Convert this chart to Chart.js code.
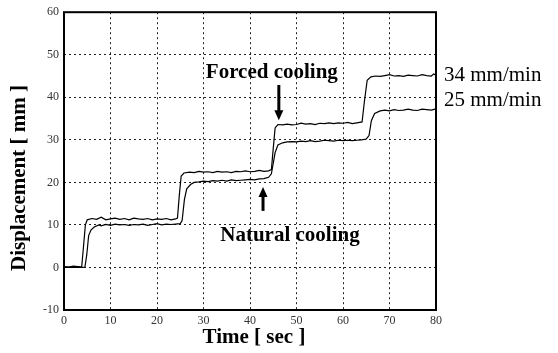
<!DOCTYPE html>
<html>
<head>
<meta charset="utf-8">
<script src="https://cdn.jsdelivr.net/npm/chart.js@4/dist/chart.umd.min.js"></script>
<style>
  html, body { margin: 0; padding: 0; background: #fff; }
  #wrap { width: 558px; height: 353px; }
</style>
</head>
<body>
<div id="wrap"><canvas id="chart" width="558" height="353"></canvas></div>
<script>
'use strict';

// ── Data ──────────────────────────────────────────────────────
const timeForced = [
  0, 1, 2, 3, 3.8, 4.2, 4.6, 5.0, 6, 7, 8, 9, 10, 11, 12, 13, 14, 15, 16, 17, 18, 19, 20,
  21, 22, 23, 24, 24.4, 24.8, 25.2, 25.8, 27, 28, 29, 30, 31, 32, 33, 34, 35, 36, 37, 38,
  39, 40, 41, 42, 43, 44, 44.6, 45.0, 45.4, 46, 47, 48, 49, 50, 51, 52, 53, 54, 55, 56,
  57, 58, 59, 60, 61, 62, 63, 64.1, 64.6, 65.2, 66, 67, 68, 69, 70, 71, 72, 73, 74, 75,
  76, 77, 78, 79, 79.5, 80
];
const dispForced = [
  0.2, 0.1, 0.3, 0.2, 0.1, 5, 10, 11.2, 11.5, 11.3, 11.8, 11.2, 11.4, 11.6, 11.3, 11.5, 11.2, 11.6, 11.4, 11.3, 11.5, 11.2, 11.4,
  11.3, 11.5, 11.2, 11.4, 11.6, 17, 21.5, 22.2, 22.4, 22.3, 22.6, 22.4, 22.5, 22.3, 22.6, 22.4, 22.5, 22.3, 22.6, 22.5,
  22.7, 22.5, 22.6, 22.8, 22.6, 22.7, 23, 28, 32.8, 33.6, 33.5, 33.7, 33.5, 33.6, 33.9, 33.7, 33.8, 33.6, 33.9, 33.8,
  34.0, 33.8, 34.0, 33.9, 34.1, 33.8, 34.0, 34.2, 39, 44, 44.8, 45.0, 44.9, 45.1, 45.3, 45.0, 45.1, 44.9, 45.2, 45.1,
  45.0, 45.3, 45.1, 45.0, 45.5, 45.2
];

const timeNatural = [
  0, 1, 2, 3, 4, 4.5, 4.9, 5.3, 5.8, 6.5, 7.5, 8, 9, 10, 11, 12, 13, 14, 15, 16, 17, 18,
  19, 20, 21, 22, 23, 24, 25, 25.4, 25.9, 26.4, 27.2, 28, 29, 30, 31, 32, 33, 34, 35, 36,
  37, 38, 39, 40, 41, 42, 43, 44, 44.6, 45.4, 46, 47, 48, 49, 50, 51, 52, 53, 54, 55, 56,
  57, 58, 59, 60, 61, 62, 63, 64, 65, 65.6, 66.1, 66.8, 68, 69, 70, 71, 72, 73, 74, 75,
  76, 77, 78, 79, 80
];
const dispNatural = [
  0, 0.1, 0, 0.1, 0, 0.1, 3, 7.5, 8.8, 9.5, 10, 9.8, 10.1, 9.9, 10.2, 10, 10.1, 9.9, 10.1, 10, 10.2, 9.9,
  10.1, 10.3, 10, 10.2, 10.1, 10.2, 10.3, 11, 16, 18.5, 19.5, 20, 20.1, 20.3, 20.2, 20.4, 20.3, 20.5, 20.3, 20.6,
  20.4, 20.5, 20.6, 20.7, 20.6, 20.8, 20.9, 21.2, 22, 27, 28.8, 29.3, 29.5, 29.6, 29.5, 29.7, 29.6, 29.8, 29.6, 29.7, 29.9,
  29.8, 29.7, 29.9, 29.8, 29.9, 29.8, 29.9, 30, 30.2, 31, 34.5, 36.2, 36.8, 37, 36.8, 37.1, 36.9, 37, 37.2, 37,
  36.9, 37.2, 37.1, 37, 37.3
];

const xTickLabels = ['0', '10', '20', '30', '40', '50', '60', '70', '80'];
const yTickLabels = ['-10', '0', '10', '20', '30', '40', '50', '60'];

const seriesLabels = ['34 mm/min', '25 mm/min'];

// ── Helpers ───────────────────────────────────────────────────
function toPoints(xs, ys) {
  return xs.map((x, i) => ({ x, y: ys[i] }));
}

const SERIF = '"Liberation Serif", "DejaVu Serif", serif';

// frame, annotations, axis titles
const decorPlugin = {
  id: 'decor',
  afterDraw(chart) {
    const { ctx, chartArea: a, scales } = chart;
    const px = v => scales.x.getPixelForValue(v);
    const py = v => scales.y.getPixelForValue(v);

    ctx.save();
    ctx.strokeStyle = '#000';
    ctx.lineWidth = 2;
    ctx.strokeRect(a.left, a.top, a.right - a.left, a.bottom - a.top);

    ctx.fillStyle = '#000';
    ctx.textBaseline = 'middle';

    // annotations
    ctx.font = 'bold 21px ' + SERIF;
    ctx.textAlign = 'center';
    ctx.fillText('Forced cooling', px(44.7), py(45.8));
    ctx.fillText('Natural cooling', px(48.6), py(7.6));

    drawArrow(ctx, px(46.2), py(42.9), px(46.2), py(34.6));
    drawArrow(ctx, px(42.8), py(13.3), px(42.8), py(18.9));

    // series labels, right of the frame
    ctx.font = '21px ' + SERIF;
    ctx.textAlign = 'left';
    ctx.fillText(seriesLabels[0], a.right + 8, py(45.1));
    ctx.fillText(seriesLabels[1], a.right + 8, py(39.2));

    // axis titles
    ctx.font = 'bold 21px ' + SERIF;
    ctx.textAlign = 'center';
    ctx.fillText('Time [ sec ]', 254, 338);
    ctx.translate(20, 178);
    ctx.rotate(-Math.PI / 2);
    ctx.fillText('Displacement [ mm ]', 0, 0);
    ctx.restore();
  }
};

function drawArrow(ctx, x1, y1, x2, y2) {
  const dir = y2 > y1 ? 1 : -1;
  ctx.save();
  ctx.strokeStyle = '#000';
  ctx.lineWidth = 3;
  ctx.beginPath();
  ctx.moveTo(x1, y1);
  ctx.lineTo(x2, y2 - dir * 6);
  ctx.stroke();
  ctx.beginPath();
  ctx.moveTo(x2, y2);
  ctx.lineTo(x2 - 4.5, y2 - dir * 10);
  ctx.lineTo(x2 + 4.5, y2 - dir * 10);
  ctx.closePath();
  ctx.fill();
  ctx.restore();
}

// ── Chart ─────────────────────────────────────────────────────
const lineStyle = {
  borderColor: '#000',
  borderWidth: 1.2,
  pointRadius: 0,
  tension: 0,
  fill: false,
};

const gridStyle = {
  color: '#222',
  lineWidth: 1,
  drawTicks: false,
};

new Chart(document.getElementById('chart').getContext('2d'), {
  type: 'line',
  data: {
    datasets: [
      { label: seriesLabels[0], data: toPoints(timeForced, dispForced), ...lineStyle },
      { label: seriesLabels[1], data: toPoints(timeNatural, dispNatural), ...lineStyle },
    ],
  },
  options: {
    responsive: false,
    animation: false,
    devicePixelRatio: 1,
    layout: { padding: { top: 11, right: 122, left: 0, bottom: 0 } },
    plugins: {
      legend: { display: false },
      tooltip: { enabled: false },
    },
    scales: {
      x: {
        type: 'linear',
        min: 0,
        max: 80,
        afterFit: s => { s.height = 43; },
        afterBuildTicks: s => { s.ticks = xTickLabels.map(v => ({ value: +v })); },
        grid: gridStyle,
        border: { display: false, dash: [2, 3] },
        ticks: {
          color: '#333',
          padding: 4,
          font: { family: SERIF, size: 12 },
          maxRotation: 0,
          callback: (v, i) => xTickLabels[i],
        },
      },
      y: {
        min: -10,
        max: 60,
        afterFit: s => { s.width = 64; },
        afterBuildTicks: s => { s.ticks = yTickLabels.map(v => ({ value: +v })); },
        grid: gridStyle,
        border: { display: false, dash: [2, 3] },
        ticks: {
          color: '#333',
          padding: 5,
          font: { family: SERIF, size: 12 },
          callback: (v, i) => yTickLabels[i],
        },
      },
    },
  },
  plugins: [decorPlugin],
});
</script>
</body>
</html>
